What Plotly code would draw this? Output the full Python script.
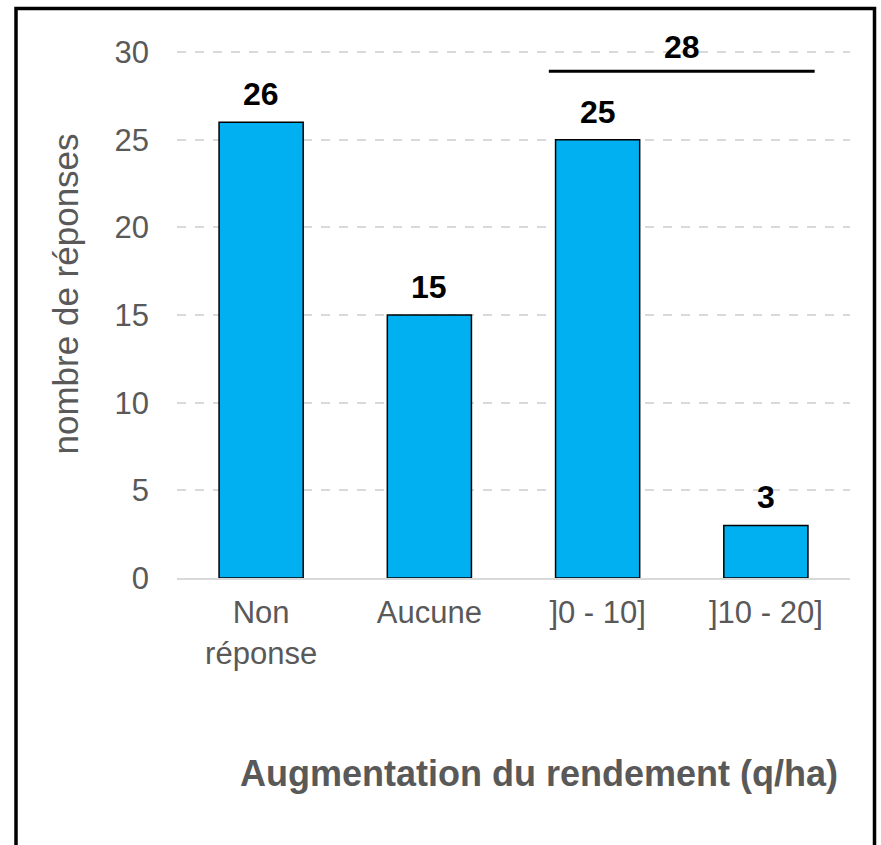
"""Bar chart: augmentation du rendement (q/ha) - nombre de réponses."""

import plotly.graph_objects as go

# data
categories = ["Non<br>réponse", "Aucune", "]0 - 10]", "]10 - 20]"]
responses = [26, 15, 25, 3]
group_total = 28  # ]0 - 10] + ]10 - 20]
y_ticks = [0, 5, 10, 15, 20, 25, 30]

GRAY = "#595959"
FONT = "Liberation Sans, Arial, sans-serif"

fig = go.Figure()
fig.add_trace(
    go.Bar(
        x=list(range(len(categories))),
        y=responses,
        width=0.5,
        marker={"color": "#00B0F0", "line": {"color": "black", "width": 1.5}},
        hoverinfo="y",
    )
)

# value labels above each bar
for i, v in enumerate(responses):
    fig.add_annotation(
        x=i, y=v, text=f"<b>{v}</b>", showarrow=False,
        yanchor="bottom", yshift=8,
        font={"size": 32, "color": "black", "family": FONT},
    )

# bracket over the two last categories
fig.add_shape(
    type="line", xref="x", yref="y",
    x0=1.71, x1=3.29, y0=group_total + 0.9, y1=group_total + 0.9,
    line={"color": "black", "width": 3},
)
fig.add_annotation(
    x=2.5, y=group_total + 0.9, text=f"<b>{group_total}</b>", showarrow=False,
    yanchor="bottom", yshift=4,
    font={"size": 32, "color": "black", "family": FONT},
)

# axis titles
fig.add_annotation(
    xref="paper", yref="paper", x=-112 / 673, y=0.5 + 20 / 526,
    xanchor="center", yanchor="middle",
    text="nombre de réponses", textangle=-90, showarrow=False,
    font={"size": 35, "color": GRAY, "family": FONT},
)
fig.add_annotation(
    xref="paper", yref="paper", x=(840 - 177) / 673, y=(578 - 773) / 526,
    xanchor="right", yanchor="middle",
    text="<b>Augmentation du rendement (q/ha)</b>",
    showarrow=False,
    font={"size": 36, "color": GRAY, "family": FONT},
)

# outer frame
fig.add_shape(
    type="rect", xref="paper", yref="paper",
    x0=(16 - 177) / 673, x1=(874.5 - 177) / 673,
    y0=(578 - 870) / 526, y1=(578 - 9.5) / 526,
    line={"color": "black", "width": 3.5},
)

fig.update_layout(
    width=881,
    height=845,
    margin={"l": 177, "r": 31, "t": 51, "b": 267},
    plot_bgcolor="white",
    paper_bgcolor="white",
    showlegend=False,
    font={"family": FONT, "color": GRAY, "size": 31},
    xaxis={
        "tickmode": "array",
        "tickvals": list(range(len(categories))),
        "ticktext": categories,
        "range": [-0.5, len(categories) - 0.5],
        "showgrid": False,
        "showline": True,
        "linecolor": "#D9D9D9",
        "linewidth": 2,
        "ticks": "",
        "ticklabelstandoff": 6,
        "tickfont": {"size": 31, "color": GRAY},
    },
    yaxis={
        "range": [0, 30.06],
        "tickvals": y_ticks,
        "showgrid": True,
        "gridcolor": "#D9D9D9",
        "griddash": "dash",
        "gridwidth": 2,
        "zeroline": False,
        "ticks": "",
        "ticklabelstandoff": 27,
        "tickfont": {"size": 31, "color": GRAY},
    },
)

# drop the default 8px page margin so the figure fills the window
fig.write_html(
    "out.html",
    config={"displayModeBar": False},
    post_script="document.body.style.margin = '0';",
)
